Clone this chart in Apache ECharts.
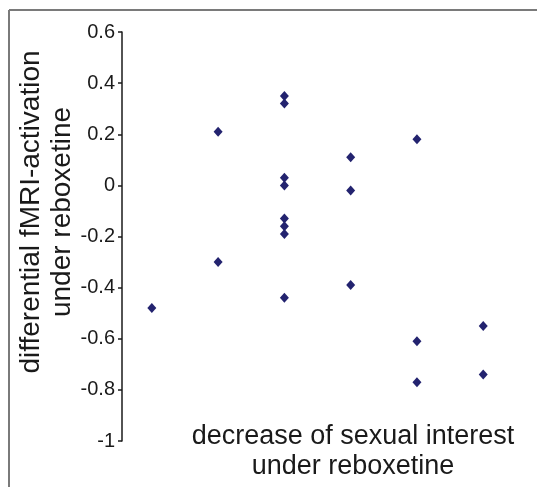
<!DOCTYPE html>
<html>
<head>
<meta charset="utf-8">
<script src="https://cdn.jsdelivr.net/npm/echarts@6/dist/echarts.min.js"></script>
<style>html,body{margin:0;padding:0;background:#fff}#c{width:537px;height:487px}</style>
</head>
<body>
<div id="c"></div>
<script>
const groups = [1, 2, 2, 3, 3, 3, 3, 3, 3, 3, 3, 4, 4, 4, 5, 5, 5, 6, 6];
const activation = [-0.48, 0.21, -0.30, 0.35, 0.32, 0.03, 0.00, -0.13, -0.16, -0.19, -0.44, 0.11, -0.02, -0.39, 0.18, -0.61, -0.77, -0.55, -0.74];
const yTicks = [0.6, 0.4, 0.2, 0, -0.2, -0.4, -0.6, -0.8, -1];
const xTitle = ['decrease of sexual interest', 'under reboxetine'];
const yTitle = ['differential fMRI-activation', 'under reboxetine'];

const points = groups.map((g, i) => [g, activation[i]]);
const chart = echarts.init(document.getElementById('c'), null, {renderer: 'canvas'});
const font = 'Liberation Sans, Arial, sans-serif';
chart.setOption({
  animation: false,
  backgroundColor: '#fff',
  grid: {left: 122, right: 14, top: 32, bottom: 46},
  xAxis: {
    type: 'value', min: 0.55, max: 6.6,
    axisLine: {show: false}, axisTick: {show: false}, axisLabel: {show: false}, splitLine: {show: false}
  },
  yAxis: {
    type: 'value', min: -1, max: 0.6, interval: 0.2,
    axisLine: {show: true, lineStyle: {color: '#1a1a1a', width: 1.5}},
    axisTick: {show: true, length: 4, inside: false, lineStyle: {color: '#1a1a1a', width: 1.5}},
    axisLabel: {
      margin: 7, fontFamily: font, fontSize: 20, color: '#1a1a1a',
      formatter: v => {
        const r = Math.round(v * 10) / 10;
        const s = yTicks.find(t => Math.abs(t - r) < 1e-9);
        return s === undefined ? '' : String(s);
      }
    },
    splitLine: {show: false}
  },
  series: [{
    type: 'scatter',
    data: points,
    symbol: 'diamond',
    symbolSize: [9, 10],
    itemStyle: {color: '#23236f', opacity: 1}
  }],
  graphic: [
    {type: 'line', shape: {x1: 9, y1: 10, x2: 537, y2: 10}, style: {stroke: '#7a7a7a', lineWidth: 2}},
    {type: 'line', shape: {x1: 9, y1: 10, x2: 9, y2: 487}, style: {stroke: '#7a7a7a', lineWidth: 2}},
    {type: 'text', x: 353, y: 452, style: {text: xTitle.join('\n'), fontFamily: font, fontSize: 27, lineHeight: 30, fill: '#1a1a1a', align: 'center', verticalAlign: 'middle'}},
    {type: 'text', x: 47, y: 212, rotation: Math.PI / 2, style: {text: yTitle.join('\n'), fontFamily: font, fontSize: 28, lineHeight: 31, fill: '#1a1a1a', align: 'center', verticalAlign: 'middle'}}
  ]
});
</script>
</body>
</html>
